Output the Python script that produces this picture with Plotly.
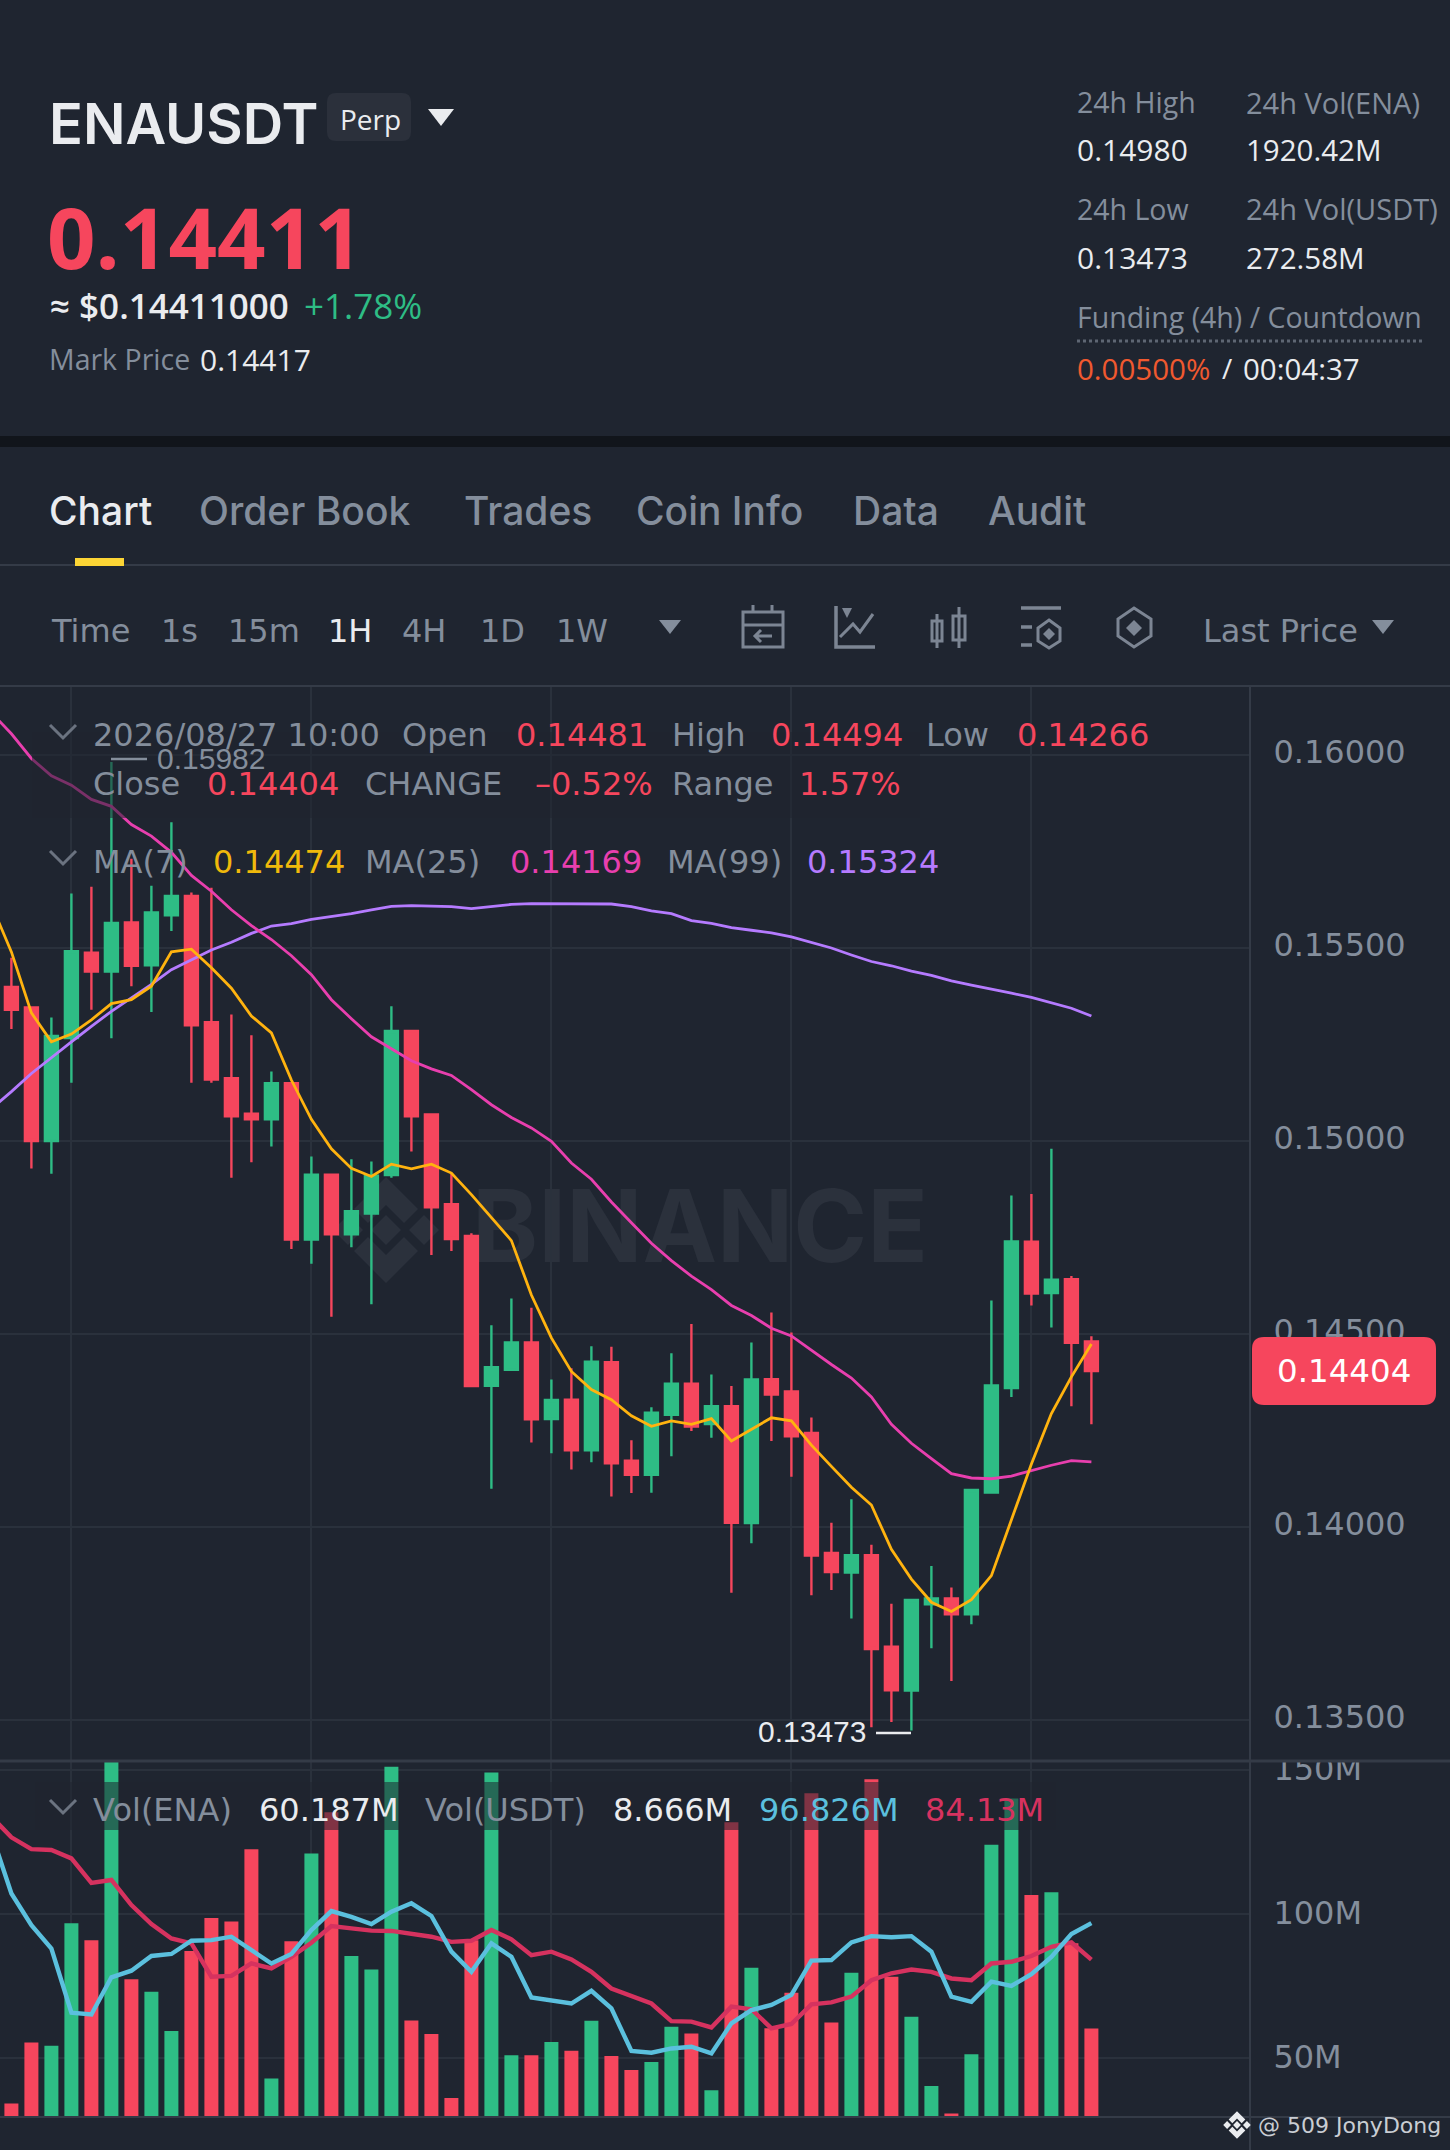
import plotly.graph_objects as go

W, H = 1450, 2150

BG = '#1F2530'
RED = '#F6465D'
GREEN = '#2EBD85'
GREY = '#848E9C'
WHITE = '#EAECEF'
GRID = '#2A313C'
LINE = '#343B47'
SANS = 'DejaVu Sans'
HEAD = 'Open Sans'
TABS = 'Inter'

# candles, oldest first
opens = [0.15399, 0.15346, 0.15000, 0.15267, 0.15488, 0.15439, 0.15566, 0.15455, 0.15585, 0.15635,
         0.15308, 0.15163, 0.15071, 0.15056, 0.15150, 0.14745, 0.14913, 0.14758, 0.14812, 0.14912,
         0.15285, 0.15069, 0.14836, 0.14754, 0.14366, 0.14407, 0.14478, 0.14280, 0.14330, 0.14199,
         0.14427, 0.14172, 0.14135, 0.14291, 0.14371, 0.14267, 0.14313, 0.14010, 0.14383, 0.14351,
         0.14244, 0.13933, 0.13882, 0.13927, 0.13690, 0.13576, 0.13800, 0.13815, 0.13774, 0.14089,
         0.14360, 0.14739, 0.14606, 0.14642, 0.14481]
highs = [0.15475, 0.15346, 0.15320, 0.15641, 0.15659, 0.15982, 0.15731, 0.15661, 0.15826, 0.15644,
         0.15656, 0.15328, 0.15274, 0.15180, 0.15150, 0.14960, 0.14915, 0.14953, 0.14947, 0.15349,
         0.15285, 0.15069, 0.14915, 0.14761, 0.14523, 0.14592, 0.14568, 0.14382, 0.14411, 0.14468,
         0.14467, 0.14225, 0.14310, 0.14450, 0.14526, 0.14395, 0.14365, 0.14478, 0.14556, 0.14504,
         0.14284, 0.14011, 0.14072, 0.13954, 0.13801, 0.13814, 0.13899, 0.13843, 0.14098, 0.14587,
         0.14859, 0.14863, 0.14980, 0.14650, 0.14494]
lows = [0.15290, 0.14929, 0.14915, 0.15151, 0.15340, 0.15266, 0.15401, 0.15334, 0.15544, 0.15151,
        0.15151, 0.14905, 0.14945, 0.14986, 0.14720, 0.14682, 0.14545, 0.14725, 0.14577, 0.14905,
        0.14973, 0.14705, 0.14715, 0.14362, 0.14099, 0.14407, 0.14219, 0.14191, 0.14149, 0.14168,
        0.14079, 0.14088, 0.14089, 0.14183, 0.14249, 0.14231, 0.13830, 0.13958, 0.14223, 0.14130,
        0.13823, 0.13837, 0.13763, 0.13481, 0.13495, 0.13473, 0.13686, 0.13601, 0.13748, 0.14089,
        0.14337, 0.14574, 0.14517, 0.14313, 0.14266]
closes = [0.15340, 0.15000, 0.15272, 0.15492, 0.15439, 0.15565, 0.15454, 0.15592, 0.15635, 0.15300,
          0.15159, 0.15064, 0.15056, 0.15150, 0.14745, 0.14913, 0.14758, 0.14818, 0.14910, 0.15285,
          0.15064, 0.14828, 0.14746, 0.14365, 0.14414, 0.14478, 0.14279, 0.14329, 0.14199, 0.14428,
          0.14165, 0.14135, 0.14296, 0.14371, 0.14260, 0.14313, 0.14011, 0.14382, 0.14343, 0.14235,
          0.13926, 0.13883, 0.13927, 0.13684, 0.13577, 0.13811, 0.13815, 0.13774, 0.14096, 0.14367,
          0.14740, 0.14605, 0.14641, 0.14477, 0.14404]

# moving averages start one bar before the first whole candle
ma7 = [0.15612, 0.15490, 0.15332, 0.15257, 0.15277, 0.15314, 0.15356, 0.15366, 0.15401, 0.15490,
       0.15497, 0.15449, 0.15396, 0.15324, 0.15280, 0.15158, 0.15056, 0.14980, 0.14929, 0.14908,
       0.14940, 0.14928, 0.14940, 0.14917, 0.14861, 0.14801, 0.14742, 0.14601, 0.14490, 0.14403,
       0.14356, 0.14330, 0.14288, 0.14261, 0.14275, 0.14266, 0.14281, 0.14223, 0.14253, 0.14283,
       0.14275, 0.14212, 0.14157, 0.14103, 0.14057, 0.13942, 0.13865, 0.13805, 0.13781, 0.13812,
       0.13874, 0.14016, 0.14163, 0.14294, 0.14389, 0.14474]
ma25 = [0.16110, 0.16055, 0.15991, 0.15946, 0.15922, 0.15885, 0.15867, 0.15820, 0.15790, 0.15748,
        0.15688, 0.15647, 0.15599, 0.15558, 0.15522, 0.15480, 0.15431, 0.15366, 0.15317, 0.15270,
        0.15239, 0.15208, 0.15187, 0.15170, 0.15133, 0.15094, 0.15061, 0.15034, 0.14999, 0.14943,
        0.14901, 0.14842, 0.14788, 0.14735, 0.14690, 0.14650, 0.14615, 0.14574, 0.14548, 0.14515,
        0.14495, 0.14457, 0.14421, 0.14386, 0.14337, 0.14266, 0.14217, 0.14177, 0.14138, 0.14127,
        0.14125, 0.14132, 0.14146, 0.14160, 0.14172, 0.14169]
ma99 = [0.15084, 0.15128, 0.15175, 0.15217, 0.15257, 0.15297, 0.15336, 0.15371, 0.15406, 0.15444,
        0.15470, 0.15495, 0.15515, 0.15538, 0.15557, 0.15563, 0.15574, 0.15582, 0.15589, 0.15599,
        0.15608, 0.15610, 0.15609, 0.15607, 0.15602, 0.15607, 0.15613, 0.15615, 0.15615, 0.15614,
        0.15614, 0.15614, 0.15607, 0.15596, 0.15589, 0.15571, 0.15564, 0.15553, 0.15546, 0.15539,
        0.15529, 0.15514, 0.15500, 0.15482, 0.15465, 0.15454, 0.15440, 0.15429, 0.15415, 0.15404,
        0.15394, 0.15383, 0.15372, 0.15358, 0.15344, 0.15324]

# volume in millions
volumes = [34.2, 55.4, 54.2, 96.8, 90.9, 153.7, 77.3, 73.0, 59.4, 87.1,
           98.6, 97.4, 122.5, 42.9, 90.5, 121.0, 135.3, 85.4, 80.7, 151.1,
           63.0, 58.3, 36.1, 90.9, 149.1, 50.9, 50.9, 55.5, 52.5, 62.9,
           50.7, 45.8, 48.6, 60.8, 58.5, 38.8, 131.8, 81.3, 60.3, 72.6,
           141.9, 62.3, 79.6, 146.8, 78.2, 64.3, 40.3, 30.7, 51.3, 124.0,
           140.1, 106.6, 107.5, 89.8, 60.187]
vol_ma5 = [128.0, 107.1, 96.1, 88.0, 65.7, 65.1, 78.0, 80.3, 85.4, 86.1,
           90.7, 90.9, 92.1, 87.5, 82.8, 86.1, 94.4, 101.0, 99.0, 96.5,
           100.8, 103.7, 99.3, 86.9, 79.9, 89.8, 85.1, 71.0, 70.1, 68.9,
           73.3, 67.2, 52.4, 51.8, 53.3, 53.9, 51.6, 62.0, 66.6, 68.4,
           71.9, 83.8, 84.0, 90.1, 92.3, 91.9, 92.3, 86.9, 71.3, 69.5,
           76.5, 75.0, 79.1, 85.1, 93.0, 96.826]
vol_ma10 = [133.8, 126.6, 122.5, 122.2, 119.3, 110.8, 111.8, 103.1, 96.5, 91.5,
            89.8, 78.2, 78.5, 82.8, 81.1, 85.1, 90.0, 95.8, 95.0, 94.2,
            94.1, 93.2, 92.1, 90.3, 90.7, 94.4, 91.2, 85.7, 86.9, 84.2,
            79.9, 74.1, 71.5, 68.9, 62.8, 62.6, 60.6, 67.8, 66.9, 60.3,
            61.8, 68.6, 69.3, 71.3, 77.0, 79.4, 80.7, 79.9, 77.6, 77.0,
            82.8, 83.4, 85.4, 88.6, 90.1, 84.13]

price_ticks = [0.135, 0.14, 0.145, 0.15, 0.155, 0.16]
price_labels = ['0.13500', '0.14000', '0.14500', '0.15000', '0.15500', '0.16000']
vol_ticks = [50, 100, 150]
vol_labels = ['50M', '100M', '150M']
time_grid = [3, 15, 27, 39, 51]

bars = list(range(55))
line_bars = list(range(-1, 55))
bar_colors = [GREEN if c >= o else RED for o, c in zip(opens, closes)]


def fx(px):
    return px / W


def fy(py):
    return 1 - py / H


def path(d):
    """Path written in page pixels -> path in paper coords"""
    out, is_x = [], True
    for tok in d.split():
        if tok.isalpha():
            out.append(tok)
        else:
            out.append(str(fx(float(tok)) if is_x else fy(float(tok))))
            is_x = not is_x
    return ' '.join(out)


def rounded(x0, y0, x1, y1, r):
    return (f'M {x0 + r} {y0} L {x1 - r} {y0} Q {x1} {y0} {x1} {y0 + r} L {x1} {y1 - r} '
            f'Q {x1} {y1} {x1 - r} {y1} L {x0 + r} {y1} Q {x0} {y1} {x0} {y1 - r} '
            f'L {x0} {y0 + r} Q {x0} {y0} {x0 + r} {y0} Z')


fig = go.Figure()

fig.add_trace(go.Candlestick(
    x=bars, open=opens, high=highs, low=lows, close=closes,
    increasing=dict(line=dict(color=GREEN, width=2.4), fillcolor=GREEN),
    decreasing=dict(line=dict(color=RED, width=2.4), fillcolor=RED),
    whiskerwidth=0, showlegend=False, xaxis='x', yaxis='y'
))
for values, color in [(ma99, '#B57BFF'), (ma25, '#E83FAE'), (ma7, '#FFB30F')]:
    fig.add_trace(go.Scatter(x=line_bars, y=values, mode='lines', showlegend=False,
                             line=dict(color=color, width=2.8), xaxis='x', yaxis='y'))

fig.add_trace(go.Bar(x=bars, y=volumes, width=0.7, marker=dict(color=bar_colors, line=dict(width=0)),
                     showlegend=False, xaxis='x2', yaxis='y2'))
for values, color in [(vol_ma10, '#D6325F'), (vol_ma5, '#5BC0DE')]:
    fig.add_trace(go.Scatter(x=line_bars, y=values, mode='lines', showlegend=False,
                             line=dict(color=color, width=4.4), xaxis='x2', yaxis='y2'))

shapes = []
annotations = []


def add_path(d, fill=None, color=None, width=0, layer='above'):
    shapes.append(dict(type='path', xref='paper', yref='paper', path=path(d), layer=layer,
                       fillcolor=fill, line=dict(color=color or 'rgba(0,0,0,0)', width=width)))


def add_line(x0, y0, x1, y1, color, width, dash=None, layer='above'):
    shapes.append(dict(type='line', xref='paper', yref='paper', x0=fx(x0), y0=fy(y0), x1=fx(x1), y1=fy(y1),
                       layer=layer, line=dict(color=color, width=width, dash=dash)))


def add_rect(x0, y0, x1, y1, fill, layer='above', **kw):
    shapes.append(dict(type='rect', xref='paper', yref='paper', x0=fx(x0), y0=fy(y0), x1=fx(x1), y1=fy(y1),
                       layer=layer, fillcolor=fill, line=dict(width=0), **kw))


def note(text, x, y, size, color=GREY, family=SANS, weight=None, anchor='left'):
    if anchor == 'left':
        x -= 1.5
    annotations.append(dict(text=text, xref='paper', yref='paper', x=fx(x), y=fy(y), showarrow=False,
                            xanchor=anchor, yanchor='middle', borderpad=0,
                            font=dict(size=size, color=color, family=family, weight=weight)))


def logo(cx, cy, s, color, layer='above'):
    def pts(items):
        return 'M ' + ' L '.join(f'{cx + a * s} {cy + b * s}' for a, b in items) + ' Z'
    for ox, oy in [(0, 0), (-38, 0), (38, 0)]:
        add_path(pts([(ox, oy - 15), (ox + 15, oy), (ox, oy + 15), (ox - 15, oy)]), fill=color, layer=layer)
    for sign in (1, -1):
        add_path(pts([(0, -53 * sign), (32, -21 * sign), (18, -7 * sign), (0, -25 * sign),
                      (-18, -7 * sign), (-32, -21 * sign)]), fill=color, layer=layer)


def chevron(x0, x1, y0, y1):
    add_path(f'M {x0} {y0} L {(x0 + x1) / 2} {y1} L {x1} {y0}', color='#6B7380', width=3)


# watermark goes under the candles
logo(386, 1230, 1.0, '#2B313C', layer='below')
shapes.append(dict(type='rect', xref='paper', yref='paper', x0=fx(470), y0=fy(1255), x1=fx(930), y1=fy(1190),
                   layer='below', line=dict(width=0),
                   label=dict(text='<b>BINANCE</b>', textposition='middle center',
                              font=dict(size=100, color='#2B313C', family='Inter'))))

# header
add_rect(0, 436, W, 447, '#11151B')
note('ENAUSDT', 49, 124, 56, WHITE, 'Inter', 600)
add_path(rounded(327, 93, 411, 141, 9), fill='#2B303B')
note('Perp', 340, 119, 28, WHITE, HEAD)
add_path('M 428 109 L 454 109 L 441 126 Z', fill=WHITE)
note('0.14411', 47, 236, 85, RED, HEAD, 700)
note('≈ $0.14411000', 50, 306, 35, WHITE, HEAD, 600)
note('+1.78%', 304, 306, 35, GREEN, HEAD)
note('Mark Price', 49, 359, 28.5, GREY, HEAD)
note('0.14417', 200, 359, 30, WHITE, HEAD)

note('24h High', 1077, 102, 28.5, GREY, HEAD)
note('24h Vol(ENA)', 1246, 102, 29, GREY, HEAD)
note('0.14980', 1077, 149, 30, WHITE, HEAD)
note('1920.42M', 1246, 149, 29.5, WHITE, HEAD)
note('24h Low', 1077, 209, 28.5, GREY, HEAD)
note('24h Vol(USDT)', 1246, 209, 29, GREY, HEAD)
note('0.13473', 1077, 257, 30, WHITE, HEAD)
note('272.58M', 1246, 257, 29.5, WHITE, HEAD)
note('Funding (4h) / Countdown', 1077, 317, 28.5, GREY, HEAD)
add_line(1077, 341, 1422, 341, '#5E6673', 3, dash='dot')
note('0.00500%', 1077, 368, 29.5, '#F0592F', HEAD)
note('/', 1222, 368, 28, WHITE, HEAD)
note('00:04:37', 1243, 368, 29.5, WHITE, HEAD)

# tabs
for label, x, color in [('Chart', 49, WHITE), ('Order Book', 199, GREY), ('Trades', 464, GREY),
                        ('Coin Info', 636, GREY), ('Data', 853, GREY), ('Audit', 988, GREY)]:
    note(label, x, 511, 39, color, TABS, 500)
add_line(0, 565, W, 565, LINE, 2)
add_rect(75, 558, 124, 566, '#FCD535')

# toolbar
for label, x, color in [('Time', 51, GREY), ('1s', 161, GREY), ('15m', 228, GREY), ('1H', 328, WHITE),
                        ('4H', 402, GREY), ('1D', 480, GREY), ('1W', 556, GREY), ('Last Price', 1203, GREY)]:
    note(label, x, 631, 32, color)
add_path('M 659 620 L 681 620 L 670 634 Z', fill=GREY)
add_path('M 1372 620 L 1394 620 L 1383 634 Z', fill=GREY)
ICON = '#7C8593'
add_path('M 743 612 L 783 612 L 783 647 L 743 647 Z M 743 625 L 783 625', color=ICON, width=3)
add_path('M 753 605 L 753 612 M 772 605 L 772 612 M 772 636 L 755 636 M 761 630 L 755 636 L 761 642', color=ICON, width=3)
add_path('M 836 606 L 836 647 L 875 647', color=ICON, width=3.5)
add_path('M 840 637 L 853 624 L 860 632 L 873 614', color=ICON, width=3)
add_path('M 842 608 L 852 608 L 847 618 Z', fill=ICON)
add_path('M 937 614 L 937 648 M 959 607 L 959 648', color=ICON, width=3)
add_path('M 932 621 L 942 621 L 942 641 L 932 641 Z M 953 616 L 965 616 L 965 640 L 953 640 Z', color=ICON, width=3)
add_path('M 1021 608 L 1061 608 M 1021 627 L 1032 627 M 1021 645 L 1032 645', color=ICON, width=3.5)
add_path('M 1049 620 L 1060 628 L 1060 641 L 1049 648 L 1038 641 L 1038 628 Z', color=ICON, width=3)
add_path('M 1049 628 L 1055 634 L 1049 640 L 1043 634 Z', fill=ICON)
add_path('M 1134 608 L 1151 619 L 1151 636 L 1134 647 L 1118 636 L 1118 619 Z', color=ICON, width=3)
add_path('M 1134 620 L 1142 628 L 1134 636 L 1126 628 Z', fill=ICON)

# pane frames
add_line(0, 686, W, 686, LINE, 2)
add_line(1250, 686, 1250, H, LINE, 2)
add_rect(1252, 1735, W, 1761, BG)
add_line(0, 1761, W, 1761, LINE, 3)
add_line(0, 2117, W, 2117, LINE, 2)

# translucent bands behind the legend rows
add_rect(32, 732, 920, 818, 'rgba(31,37,48,0.55)')
add_rect(35, 1782, 1056, 1830, 'rgba(31,37,48,0.55)')

# price pane legend
chevron(50, 76, 725, 738)
note('2026/08/27 10:00', 93, 735, 32)
for label, x, color in [('Open', 403, GREY), ('0.14481', 516, RED), ('High', 672, GREY),
                        ('0.14494', 771, RED), ('Low', 927, GREY), ('0.14266', 1017, RED)]:
    note(label, x, 735, 32, color)
for label, x, color in [('Close', 93, GREY), ('0.14404', 207, RED), ('CHANGE', 365, GREY),
                        ('–0.52%', 535, RED), ('Range', 672, GREY), ('1.57%', 800, RED)]:
    note(label, x, 784, 32, color)
chevron(50, 76, 851, 864)
for label, x, color in [('MA(7)', 93, GREY), ('0.14474', 213, '#F0B90B'), ('MA(25)', 365, GREY),
                        ('0.14169', 510, '#E83FAE'), ('MA(99)', 667, GREY), ('0.15324', 807, '#B57BFF')]:
    note(label, x, 862, 32, color)

# volume pane legend
chevron(50, 76, 1800, 1813)
for label, x, color in [('Vol(ENA)', 93, GREY), ('60.187M', 259, WHITE), ('Vol(USDT)', 425, GREY),
                        ('8.666M', 613, WHITE), ('96.826M', 759, '#5BC0DE'), ('84.13M', 925, '#D6325F')]:
    note(label, x, 1810, 32, color)

# high / low marks
add_line(111, 759, 147, 759, GREY, 2.5)
note('0.15982', 157, 758, 30, GREY, 'Liberation Sans')
note('0.13473', 758, 1731, 30, WHITE, 'Liberation Sans')
add_line(876, 1733, 911, 1733, WHITE, 2.5)

# last price tag
add_path(rounded(1252, 1337, 1436, 1405, 12), fill=RED)
note('0.14404', 1344, 1371, 32.5, '#FFFFFF', anchor='center')

# signature
logo(1237, 2125, 0.26, WHITE)
note('@ 509 JonyDong', 1258, 2125, 22, '#C9CDD3')

fig.update_layout(
    width=W, height=H, margin=dict(l=0, r=0, t=0, b=0), autosize=False,
    paper_bgcolor=BG, plot_bgcolor=BG, showlegend=False, boxgap=0.35, boxgroupgap=0,
    shapes=shapes, annotations=annotations, font=dict(family=SANS),
    xaxis=dict(domain=[0, 1250 / W], range=[-0.57, 61.93], anchor='y', rangeslider=dict(visible=False),
               tickvals=time_grid, showticklabels=False, showgrid=True, gridcolor=GRID, gridwidth=2,
               zeroline=False, showline=False, ticks='', automargin=False),
    yaxis=dict(domain=[fy(1761), fy(686)], range=[0.133938, 0.161788], side='right', anchor='x',
               tickvals=price_ticks, ticktext=price_labels, showgrid=True, gridcolor=GRID, gridwidth=2,
               zeroline=False, showline=False, ticks='outside', ticklen=16, tickcolor='rgba(0,0,0,0)',
               ticklabelshift=-3, tickfont=dict(size=32, color=GREY, family=SANS), automargin=False),
    xaxis2=dict(domain=[0, 1250 / W], range=[-0.57, 61.93], anchor='y2',
                tickvals=time_grid, showticklabels=False, showgrid=True, gridcolor=GRID, gridwidth=2,
                zeroline=False, showline=False, ticks='', automargin=False),
    yaxis2=dict(domain=[fy(2117), fy(1761)], range=[29.5, 153.1], side='right', anchor='x2',
                tickvals=vol_ticks, ticktext=vol_labels, showgrid=True, gridcolor=GRID, gridwidth=2,
                zeroline=False, showline=False, ticks='outside', ticklen=16, tickcolor='rgba(0,0,0,0)',
                ticklabelshift=-1, tickfont=dict(size=32, color=GREY, family=SANS), automargin=False),
)

fig.write_html("out.html", config=dict(displayModeBar=False),
               post_script="document.body.style.margin='0';document.body.style.background='" + BG + "';"
                           "document.documentElement.style.overflow='hidden';")
